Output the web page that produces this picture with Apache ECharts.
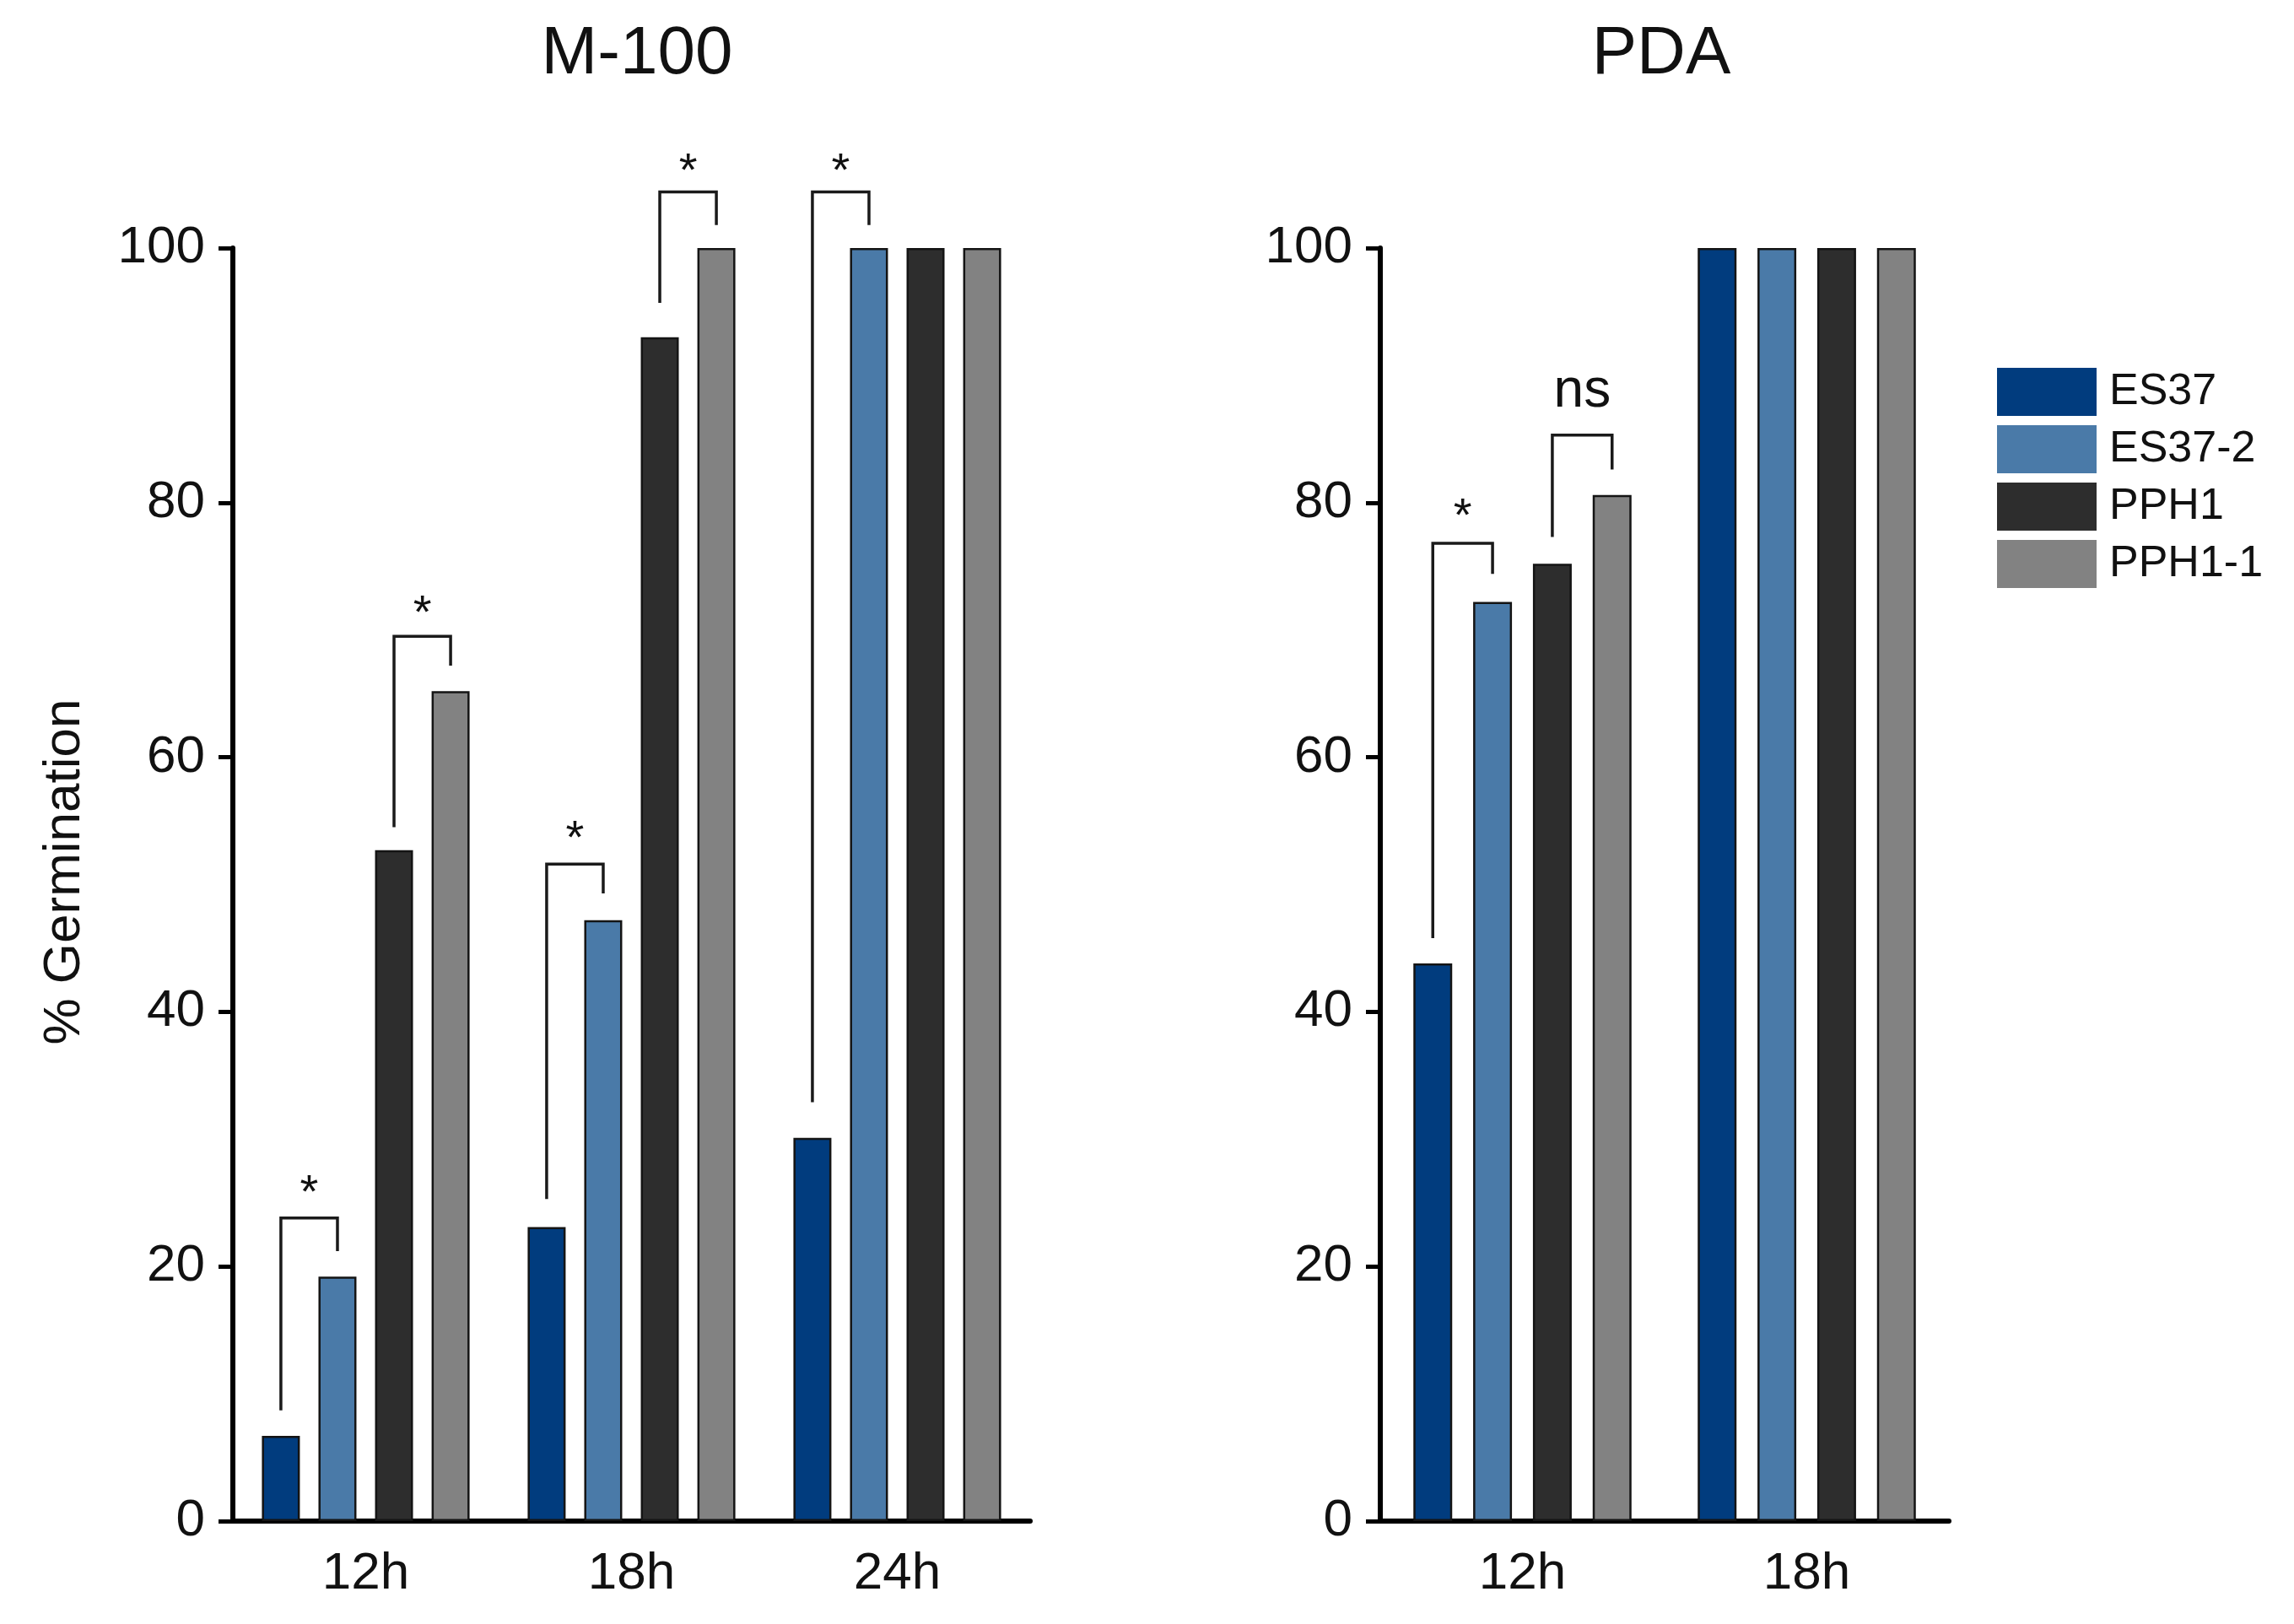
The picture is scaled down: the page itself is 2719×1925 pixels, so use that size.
<!DOCTYPE html>
<html><head><meta charset="utf-8">
<script src="https://cdn.jsdelivr.net/npm/echarts@6/dist/echarts.min.js"></script>
<style>html,body{margin:0;padding:0;background:#fff}#c{width:2719px;height:1925px}</style>
</head><body><div id="c"></div>
<script>
// ---------- data ----------
const seriesNames = ['ES37', 'ES37-2', 'PPH1', 'PPH1-1'];
const m100Categories = ['12h', '18h', '24h'];
const pdaCategories = ['12h', '18h'];
const m100_ES37   = [6.7, 23.1, 30.1];
const m100_ES37_2 = [19.2, 47.2, 100];
const m100_PPH1   = [52.7, 93.0, 100];
const m100_PPH1_1 = [65.2, 100, 100];
const pda_ES37   = [43.8, 100];
const pda_ES37_2 = [72.2, 100];
const pda_PPH1   = [75.2, 100];
const pda_PPH1_1 = [80.6, 100];
const yTickValues = [0, 20, 40, 60, 80, 100];
// significance brackets: [category index, left bar, right bar, left leg bottom, top line, right leg bottom, label level]
const m100Brackets = [
  [0, 0, 1, 8.7, 23.8, 21.2, 26.5],
  [0, 2, 3, 54.5, 69.5, 67.2, 72.0],
  [1, 0, 1, 25.3, 51.6, 49.3, 54.3],
  [1, 2, 3, 95.7, 104.4, 101.8, 106.7],
  [2, 0, 1, 32.9, 104.4, 101.8, 106.7]
];
const m100BracketLabels = ['*', '*', '*', '*', '*'];
const pdaBrackets = [
  [0, 0, 1, 45.8, 76.8, 74.4, 79.6],
  [0, 2, 3, 77.3, 85.3, 82.6, 88.3]
];
const pdaBracketLabels = ['*', 'ns'];

// ---------- styling ----------
const FONT = 'Liberation Sans, Arial, Helvetica, sans-serif';
const colors = ['#013c7e', '#4a7aa8', '#2d2d2d', '#828282'];
const BORDER = '#141414';
const left = { barWidth: 45, gap: 0.49 };
const right = { barWidth: 46, gap: 0.54 };

function bracketRenderer(cfg, labels) {
  return function (params, api) {
    const cat = api.value(0), i0 = api.value(1), i1 = api.value(2);
    const cx = api.coord([cat, 0])[0];
    const g = cfg.barWidth * cfg.gap;
    const total = 4 * cfg.barWidth + 3 * g;
    const xOf = i => cx - total / 2 + i * (cfg.barWidth + g) + cfg.barWidth / 2;
    const x0 = xOf(i0), x1 = xOf(i1);
    const yl = api.coord([cat, api.value(3)])[1];
    const yt = api.coord([cat, api.value(4)])[1];
    const yr = api.coord([cat, api.value(5)])[1];
    const ylab = api.coord([cat, api.value(6)])[1];
    const lab = labels[params.dataIndex];
    const isStar = lab === '*';
    return {
      type: 'group',
      children: [
        { type: 'polyline', shape: { points: [[x0, yl], [x0, yt], [x1, yt], [x1, yr]] },
          style: { stroke: '#1a1a1a', lineWidth: 3.5, fill: null } },
        { type: 'text', x: (x0 + x1) / 2, y: ylab + (isStar ? 12 : -6),
          style: { text: lab, fontSize: isStar ? 56 : 64, fontFamily: FONT, fill: '#111',
                   align: 'center', verticalAlign: 'middle' } }
      ]
    };
  };
}

function barSeries(name, data, idx, axisIdx, cfg) {
  return {
    type: 'bar', name: name, data: data,
    xAxisIndex: axisIdx, yAxisIndex: axisIdx,
    barWidth: cfg.barWidth, barGap: Math.round(cfg.gap * 100) + '%',
    itemStyle: { color: colors[idx], borderColor: BORDER, borderWidth: 2.5 },
    emphasis: { disabled: true }, animation: false
  };
}

function xAxis(gridIndex, cats) {
  return {
    type: 'category', gridIndex: gridIndex, data: cats,
    axisLine: { lineStyle: { color: '#000', width: 6 } },
    axisTick: { alignWithLabel: true, length: 18, lineStyle: { color: '#000', width: 4 } },
    axisLabel: { fontSize: 62, color: '#111', fontFamily: FONT, margin: 32 },
    splitLine: { show: false }
  };
}
function yAxis(gridIndex, withName) {
  const a = {
    type: 'value', gridIndex: gridIndex, min: yTickValues[0], max: yTickValues[yTickValues.length - 1],
    interval: yTickValues[1] - yTickValues[0],
    axisLine: { show: true, lineStyle: { color: '#000', width: 6 } },
    axisTick: { show: true, length: 17, lineStyle: { color: '#000', width: 5 } },
    axisLabel: { fontSize: 62, color: '#111', fontFamily: FONT, margin: 33 },
    splitLine: { show: false }
  };
  if (withName) {
    a.name = '% Germination';
    a.nameLocation = 'middle';
    a.nameRotate = 90;
    a.nameGap = 168;
    a.nameTextStyle = { fontSize: 62, color: '#111', fontFamily: FONT, padding: [0, 0, 0, 30] };
  }
  return a;
}

const m100Data = [m100_ES37, m100_ES37_2, m100_PPH1, m100_PPH1_1];
const pdaData = [pda_ES37, pda_ES37_2, pda_PPH1, pda_PPH1_1];

const series = [];
seriesNames.forEach((n, i) => series.push(barSeries(n, m100Data[i], i, 0, left)));
seriesNames.forEach((n, i) => series.push(barSeries(n, pdaData[i], i, 1, right)));
series.push({ type: 'custom', name: 'sigM', xAxisIndex: 0, yAxisIndex: 0, data: m100Brackets,
  renderItem: bracketRenderer(left, m100BracketLabels), clip: false, z: 5, silent: true,
  encode: { x: 0, y: 4 }, animation: false });
series.push({ type: 'custom', name: 'sigP', xAxisIndex: 1, yAxisIndex: 1, data: pdaBrackets,
  renderItem: bracketRenderer(right, pdaBracketLabels), clip: false, z: 5, silent: true,
  encode: { x: 0, y: 4 }, animation: false });

const chart = echarts.init(document.getElementById('c'), null, { renderer: 'canvas' });
chart.setOption({
  backgroundColor: '#fff',
  animation: false,
  title: [
    { text: 'M-100', left: 750, top: 20, textAlign: 'center',
      textStyle: { fontSize: 80, fontWeight: 'normal', color: '#111', fontFamily: FONT } },
    { text: 'PDA', left: 1964, top: 20, textAlign: 'center',
      textStyle: { fontSize: 80, fontWeight: 'normal', color: '#111', fontFamily: FONT } }
  ],
  legend: {
    data: seriesNames, orient: 'vertical', left: 2367, top: 436, padding: 0,
    itemWidth: 118, itemHeight: 57, itemGap: 11, icon: 'rect',
    itemStyle: { borderWidth: 0 },
    textStyle: { fontSize: 52, color: '#111', fontFamily: FONT, padding: [0, 0, 0, 10] },
    selectedMode: false
  },
  grid: [
    { left: 276, top: 294, width: 945, height: 1509 },
    { left: 1636, top: 294, width: 674, height: 1509 }
  ],
  xAxis: [xAxis(0, m100Categories), xAxis(1, pdaCategories)],
  yAxis: [yAxis(0, true), yAxis(1, false)],
  series: series
});
</script>
</body></html>
